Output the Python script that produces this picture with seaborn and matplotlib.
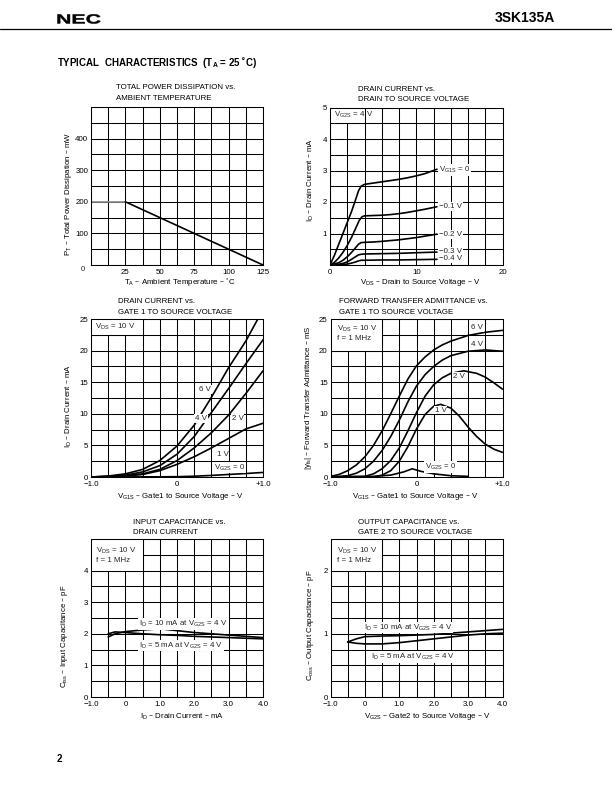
import numpy as np
import pandas as pd
import matplotlib
matplotlib.use("Agg")
import matplotlib.pyplot as plt
import seaborn as sns
from matplotlib.patches import Rectangle, PathPatch
from matplotlib.textpath import TextPath
from matplotlib.font_manager import FontProperties
from matplotlib.transforms import Affine2D

# ---------------- data ----------------
# 1: total power dissipation vs ambient temperature
p1_flat_t = [0, 25]
p1_flat_p = [200, 200]
p1_derate_t = [25, 125]
p1_derate_p = [200, 0]

# 2: drain current vs drain-source voltage (VG2S = 4 V)
p2_curves = {
    "0": ([0, 0.5, 1, 1.5, 2, 2.5, 3, 3.3, 3.6, 4, 5, 6, 7, 8, 9, 10, 11, 12.4],
          [0, 0.3, 0.65, 1.0, 1.35, 1.7, 2.1, 2.35, 2.5, 2.56, 2.6, 2.64, 2.68, 2.72, 2.77, 2.83, 2.9, 3.04]),
    "-0.1": ([0, 0.5, 1, 1.5, 2, 2.5, 3, 3.4, 3.7, 4, 5, 6, 7, 8, 9, 10, 11, 12.4],
             [0, 0.08, 0.22, 0.4, 0.62, 0.88, 1.18, 1.42, 1.53, 1.56, 1.57, 1.58, 1.6, 1.63, 1.67, 1.72, 1.77, 1.85]),
    "-0.2": ([0, 1, 1.5, 2, 2.5, 3, 3.3, 3.6, 4, 5, 6, 8, 10, 12.4],
             [0, 0.07, 0.15, 0.26, 0.4, 0.56, 0.66, 0.71, 0.72, 0.73, 0.75, 0.8, 0.87, 0.98]),
    "-0.3": ([0, 1, 1.5, 2, 2.5, 3, 3.3, 3.6, 4, 6, 8, 10, 12.4],
             [0, 0.02, 0.05, 0.1, 0.18, 0.27, 0.32, 0.34, 0.35, 0.36, 0.37, 0.39, 0.41]),
    "-0.4": ([0, 1, 2, 2.5, 3, 3.3, 3.6, 4, 6, 8, 10, 12.4],
             [0, 0.01, 0.03, 0.06, 0.1, 0.13, 0.15, 0.15, 0.16, 0.16, 0.17, 0.18]),
}
p2_labels = ["V$_{G1S}$ = 0", "\u22120.1 V", "\u22120.2 V", "\u22120.3 V", "\u22120.4 V"]
p2_label_y = [3.03, 1.85, 0.98, 0.43, 0.21]

# 3: drain current vs gate1-source voltage (VDS = 10 V)
p3_vg1 = [-1.0, -0.8, -0.6, -0.4, -0.2, 0.0, 0.2, 0.4, 0.6, 0.8, 1.0]
p3_curves = {
    "6 V": [0, 0.15, 0.5, 1.2, 2.6, 4.9, 8.2, 12.6, 17.3, 21.5, 26.5],
    "4 V": [0, 0.1, 0.3, 0.8, 1.8, 3.6, 6.4, 10.2, 14.0, 17.9, 21.7],
    "2 V": [0, 0.07, 0.2, 0.5, 1.2, 2.6, 4.6, 7.0, 9.8, 13.2, 16.8],
    "1 V": [0, 0.05, 0.15, 0.4, 1.0, 2.0, 3.2, 4.6, 6.1, 7.6, 8.5],
    "0": [0, 0.0, 0.01, 0.02, 0.03, 0.05, 0.12, 0.25, 0.4, 0.55, 0.72],
}
p3_labels = ["6 V", "4 V", "2 V", "1 V", "V$_{G2S}$ = 0"]
p3_label_x = [0.33, 0.275, 0.705, 0.53, 0.61]
p3_label_y = [13.9, 9.2, 9.3, 3.5, 1.5]

# 4: forward transfer admittance vs gate1-source voltage
p4_curves = {
    "6 V": ([-1.0, -0.9, -0.8, -0.7, -0.6, -0.5, -0.4, -0.3, -0.2, -0.1, 0.0, 0.1, 0.2, 0.3, 0.4, 0.6, 0.8, 1.0],
            [0.1, 0.4, 1.0, 1.9, 3.2, 5.0, 7.3, 10.0, 12.8, 15.5, 17.6, 19.0, 20.1, 20.9, 21.5, 22.4, 22.9, 23.2]),
    "4 V": ([-1.0, -0.8, -0.7, -0.6, -0.5, -0.4, -0.3, -0.2, -0.1, 0.0, 0.1, 0.2, 0.3, 0.4, 0.6, 0.8, 1.0],
            [0.0, 0.2, 0.6, 1.3, 2.5, 4.2, 6.4, 9.0, 11.9, 14.4, 16.2, 17.5, 18.5, 19.2, 19.9, 20.1, 19.9]),
    "2 V": ([-1.0, -0.6, -0.5, -0.4, -0.3, -0.2, -0.1, 0.0, 0.1, 0.2, 0.3, 0.4, 0.55, 0.7, 0.8, 0.9, 1.0],
            [0.0, 0.1, 0.5, 1.3, 2.6, 4.6, 7.3, 10.2, 12.8, 14.6, 15.7, 16.4, 16.8, 16.4, 15.8, 14.9, 13.9]),
    "1 V": ([-1.0, -0.5, -0.4, -0.3, -0.2, -0.1, 0.0, 0.1, 0.2, 0.28, 0.4, 0.5, 0.6, 0.7, 0.8, 0.9, 1.0],
            [0.0, 0.0, 0.3, 1.0, 2.5, 4.8, 7.6, 9.9, 11.2, 11.5, 10.9, 9.6, 7.9, 6.4, 5.2, 4.4, 3.9]),
    "0": ([-1.0, -0.5, -0.3, -0.15, -0.05, 0.05, 0.2, 0.4, 0.6],
          [0.0, 0.1, 0.3, 0.8, 1.3, 0.9, 0.5, 0.2, 0.1]),
}
p4_labels = ["6 V", "4 V", "2 V", "1 V", "V$_{G2S}$ = 0"]
p4_label_x = [0.70, 0.70, 0.49, 0.28, 0.28]
p4_label_y = [23.6, 21.0, 15.9, 10.6, 1.6]

# 5: input capacitance vs drain current
p5_id = [-0.5, -0.3, 0.0, 0.5, 1.0, 1.5, 2.0, 2.5, 3.0, 3.5, 4.0]
p5_ciss_10ma = [1.9, 2.0, 2.07, 2.12, 2.16, 2.1, 2.04, 2.0, 1.96, 1.92, 1.88]
p5_ciss_5ma = [2.0, 2.06, 2.04, 2.0, 1.97, 1.95, 1.92, 1.9, 1.88, 1.86, 1.84]

# 6: output capacitance vs gate2-source voltage
p6_vg2 = [-0.5, -0.25, 0.0, 0.5, 1.0, 1.5, 2.0, 2.5, 3.0, 3.5, 4.0]
p6_coss_10ma = [0.87, 0.92, 0.955, 0.965, 0.97, 0.98, 0.99, 1.01, 1.03, 1.05, 1.07]
p6_coss_5ma = [0.87, 0.85, 0.84, 0.84, 0.86, 0.89, 0.92, 0.95, 0.98, 1.0, 1.01]

# ---------------- style ----------------
sns.set_theme(style="white")
plt.rcParams['font.family'] = ['Liberation Sans', 'DejaVu Sans']
plt.rcParams['mathtext.default'] = 'regular'
plt.rcParams['axes.unicode_minus'] = True

W, H = 612, 792
FS = 5.7
LW_GRID = 0.75
LW_CURVE = 1.2

fig = plt.figure(figsize=(W / 100, H / 100), dpi=100)
fig.patch.set_facecolor('white')


def ax_at(l, t, r, b):
    return fig.add_axes([l / W, 1 - b / H, (r - l) / W, (b - t) / H])


def ftext(x, y, s, **kw):
    kw.setdefault('fontsize', FS)
    kw.setdefault('color', 'black')
    return fig.text(x / W, 1 - y / H, s, **kw)


def setup(ax, xlim, ylim, nx, ny, xlab, ylab):
    ax.set_xlim(xlim)
    ax.set_ylim(ylim)
    xt = np.linspace(xlim[0], xlim[1], nx + 1)
    yt = np.linspace(ylim[0], ylim[1], ny + 1)
    ax.set_xticks(xt)
    ax.set_yticks(yt)
    ax.set_xticklabels([xlab.get(i, '') for i in range(nx + 1)])
    ax.set_yticklabels([ylab.get(i, '') for i in range(ny + 1)])
    ax.grid(True, color='black', lw=LW_GRID)
    ax.set_axisbelow(True)
    ax.tick_params(length=0, labelsize=FS, colors='black')
    ax.tick_params(axis='x', pad=2.6)
    ax.tick_params(axis='y', pad=2.0)
    for s in ax.spines.values():
        s.set_color('black')
        s.set_linewidth(LW_GRID)
        s.set_visible(True)
    ax.set_facecolor('white')
    ax.set_xlabel('')
    ax.set_ylabel('')


def curves(ax, data, palette=None):
    frames = []
    for name, (xs, ys) in data.items():
        frames.append(pd.DataFrame({'x': xs, 'y': ys, 'curve': name}))
    df = pd.concat(frames, ignore_index=True)
    if palette is None:
        palette = {n: 'black' for n in data}
    sns.lineplot(data=df, x='x', y='y', hue='curve', palette=palette,
                 estimator=None, sort=False, legend=False, lw=LW_CURVE, ax=ax)
    ax.set_xlabel('')
    ax.set_ylabel('')


def box(ax, x0, y0, x1, y1, lines):
    ax.add_patch(Rectangle((x0, y0), x1 - x0, y1 - y0, facecolor='white',
                           edgecolor='black', lw=LW_GRID, zorder=3))
    for (tx, ty, s) in lines:
        ax.text(tx, ty, s, fontsize=FS, ha='left', va='center', zorder=4)


def label(ax, x, y, s, ha='center'):
    ax.text(x, y, s, fontsize=FS, ha=ha, va='center', zorder=4,
            bbox=dict(facecolor='white', edgecolor='none', pad=0.6))


# ---------------- header ----------------
fp = FontProperties(family='Liberation Sans', weight='bold')
tp = TextPath((0, 0), "NEC", size=1, prop=fp)
ext = tp.get_extents()
sx = 43 / ext.width
sy = 9.5 / 0.716
tr = Affine2D().scale(sx / W, sy / H).translate(56 / W, 1 - 23.5 / H) + fig.transFigure
fig.add_artist(PathPatch(tp, transform=tr, facecolor='black', edgecolor='black', lw=0.3))
ftext(555, 18.5, "3SK135A", fontsize=10, fontweight='bold', ha='right', va='center')
fig.add_artist(plt.Line2D([0, 1], [1 - 29 / H, 1 - 29 / H], transform=fig.transFigure,
                          color='black', lw=0.9))
ftext(57, 63, "TYPICAL  CHARACTERISTICS  (T$_A$ = 25 \u02daC)", fontsize=7,
      fontweight='bold', ha='left', va='center')
ftext(57, 759, "2", fontsize=7, fontweight='bold', ha='left', va='center')

# ---------------- plot 1 ----------------
ax1 = ax_at(91, 107, 263, 265)
setup(ax1, (0, 125), (0, 500), 10, 10,
      {2: '25', 4: '50', 6: '75', 8: '100', 10: '125'},
      {2: '100', 4: '200', 6: '300', 8: '400'})
curves(ax1, {'flat': (p1_flat_t, p1_flat_p), 'derate': (p1_derate_t, p1_derate_p)},
       palette={'flat': '#8a8a8a', 'derate': 'black'})
ax1.annotate('0', xy=(0, 0), xytext=(-5.8, -3.2), textcoords='offset points',
             fontsize=FS, ha='center', va='center', annotation_clip=False)
ftext(116, 87.5, "TOTAL POWER DISSIPATION vs.", ha='left', va='center')
ftext(116, 98.5, "AMBIENT TEMPERATURE", ha='left', va='center')
ftext(69, 194, "P$_T$ \u2013 Total Power Dissipation \u2013 mW", rotation=90, ha='center', va='center')
ftext(180, 282, "T$_A$ \u2013 Ambient Temperature \u2013 \u02daC", ha='center', va='center')

# ---------------- plot 2 ----------------
ax2 = ax_at(330, 107.5, 502.5, 265)
setup(ax2, (0, 20), (0, 5), 10, 10,
      {0: '0', 5: '10', 10: '20'},
      {2: '1', 4: '2', 6: '3', 8: '4', 10: '5'})
curves(ax2, p2_curves)
box(ax2, 0, 4.5, 4, 5, [(0.45, 4.75, "V$_{G2S}$ = 4 V")])
for s, yv in zip(p2_labels, p2_label_y):
    label(ax2, 12.6, yv, s, ha='left')
ftext(358, 89.5, "DRAIN CURRENT vs.", ha='left', va='center')
ftext(358, 99.5, "DRAIN TO SOURCE VOLTAGE", ha='left', va='center')
ftext(311, 180, "I$_D$ \u2013 Drain Current \u2013 mA", rotation=90, ha='center', va='center')
ftext(420, 282, "V$_{DS}$ \u2013 Drain to Source Voltage \u2013 V", ha='center', va='center')

# ---------------- plot 3 ----------------
ax3 = ax_at(91, 319, 263, 477)
setup(ax3, (-1, 1), (0, 25), 10, 10,
      {0: '\u22121.0', 5: '0', 10: '+1.0'},
      {0: '0', 2: '5', 4: '10', 6: '15', 8: '20', 10: '25'})
curves(ax3, {k: (p3_vg1, v) for k, v in p3_curves.items()})
box(ax3, -1, 22.5, -0.4, 25, [(-0.95, 23.75, "V$_{DS}$ = 10 V")])
for s, xv, yv in zip(p3_labels, p3_label_x, p3_label_y):
    label(ax3, xv, yv, s)
ftext(118, 302, "DRAIN CURRENT vs.", ha='left', va='center')
ftext(118, 312.5, "GATE 1 TO SOURCE VOLTAGE", ha='left', va='center')
ftext(69, 406, "I$_D$ \u2013 Drain Current \u2013 mA", rotation=90, ha='center', va='center')
ftext(180, 497, "V$_{G1S}$ \u2013 Gate1 to Source Voltage \u2013 V", ha='center', va='center')

# ---------------- plot 4 ----------------
ax4 = ax_at(330.5, 319, 502.5, 477)
setup(ax4, (-1, 1), (0, 25), 10, 10,
      {0: '\u22121.0', 5: '0', 10: '+1.0'},
      {0: '0', 2: '5', 4: '10', 6: '15', 8: '20', 10: '25'})
curves(ax4, p4_curves)
box(ax4, -1, 20, -0.4, 25, [(-0.92, 23.5, "V$_{DS}$ = 10 V"), (-0.92, 21.9, "f = 1 MHz")])
for s, xv, yv in zip(p4_labels, p4_label_x, p4_label_y):
    label(ax4, xv, yv, s)
ftext(339, 302, "FORWARD TRANSFER ADMITTANCE vs.", ha='left', va='center')
ftext(339, 312, "GATE 1 TO SOURCE VOLTAGE", ha='left', va='center')
ftext(308, 398, "|y$_{fs}$| \u2013 Forward Transfer Admittance \u2013 mS", rotation=90, ha='center', va='center')
ftext(415, 497, "V$_{G1S}$ \u2013 Gate1 to Source Voltage \u2013 V", ha='center', va='center')

# ---------------- plot 5 ----------------
ax5 = ax_at(91, 539, 263, 697)
setup(ax5, (-1, 4), (0, 5), 10, 10,
      {0: '\u22121.0', 2: '0', 4: '1.0', 6: '2.0', 8: '3.0', 10: '4.0'},
      {0: '0', 2: '1', 4: '2', 6: '3', 8: '4'})
curves(ax5, {'10': (p5_id, p5_ciss_10ma), '5': (p5_id, p5_ciss_5ma)})
box(ax5, -1, 4, 0.5, 5, [(-0.85, 4.62, "V$_{DS}$ = 10 V"), (-0.85, 4.32, "f = 1 MHz")])
label(ax5, 1.69, 2.3, "I$_D$ = 10 mA at V$_{G2S}$ = 4 V")
label(ax5, 1.61, 1.63, "I$_D$ = 5 mA at V$_{G2S}$ = 4 V")
ftext(133, 522.5, "INPUT CAPACITANCE vs.", ha='left', va='center')
ftext(133, 532.5, "DRAIN CURRENT", ha='left', va='center')
ftext(65, 636, "C$_{iss}$ \u2013 Input Capacitance \u2013 pF", rotation=90, ha='center', va='center')
ftext(182, 717, "I$_D$ \u2013 Drain Current \u2013 mA", ha='center', va='center')

# ---------------- plot 6 ----------------
ax6 = ax_at(330.5, 539, 502.5, 697)
setup(ax6, (-1, 4), (0, 2.5), 10, 10,
      {0: '\u22121.0', 2: '0', 4: '1.0', 6: '2.0', 8: '3.0', 10: '4.0'},
      {0: '0', 4: '1', 8: '2'})
curves(ax6, {'10': (p6_vg2, p6_coss_10ma), '5': (p6_vg2, p6_coss_5ma)})
box(ax6, -1, 2.0, 0.5, 2.5, [(-0.8, 2.31, "V$_{DS}$ = 10 V"), (-0.8, 2.16, "f = 1 MHz")])
label(ax6, 1.25, 1.1, "I$_D$ = 10 mA at V$_{G2S}$ = 4 V")
label(ax6, 1.41, 0.63, "I$_D$ = 5 mA at V$_{G2S}$ = 4 V")
ftext(358, 522.5, "OUTPUT CAPACITANCE vs.", ha='left', va='center')
ftext(358, 532.5, "GATE 2 TO SOURCE VOLTAGE", ha='left', va='center')
ftext(310, 625, "C$_{oss}$ \u2013 Output Capacitance \u2013 pF", rotation=90, ha='center', va='center')
ftext(427, 717, "V$_{G2S}$ \u2013 Gate2 to Source Voltage \u2013 V", ha='center', va='center')

fig.savefig("out.png", dpi=100, facecolor='white')
